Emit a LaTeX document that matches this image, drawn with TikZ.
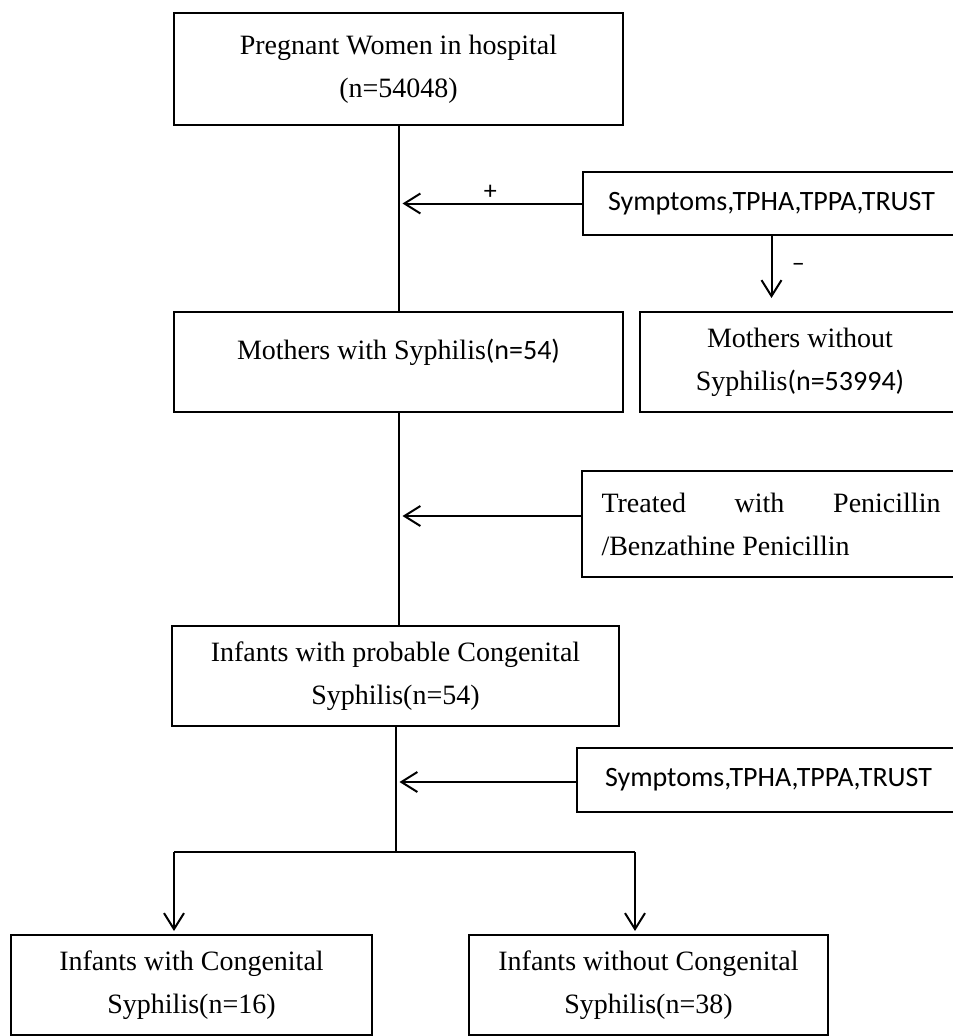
\documentclass[tikz,border=0pt]{standalone}
\usepackage{fontspec}
\setmainfont{Liberation Serif}
\newfontfamily\calibri{Carlito}
\usetikzlibrary{arrows.meta}

\tikzset{
    box/.style={draw, line width=2pt, align=center, inner sep=0pt, font=\fontsize{28}{43}\selectfont},
    sansbox/.style={box, font=\calibri\fontsize{28}{43}\selectfont},
    smallsans/.style={font=\calibri\fontsize{26}{30}\selectfont},
    link/.style={line width=2pt},
    arr/.style={line width=2pt, -{Straight Barb[length=16pt,width=20pt]}}
}

\begin{document}
\begin{tikzpicture}[x=1pt, y=-1pt]
    \useasboundingbox (0,0) rectangle (953,1036);

    % Draw nodes for the mothers
    \node[box, minimum width=449pt, minimum height=112pt] (pregnant) at (398.5, 69) {Pregnant Women in hospital\\(n=54048)};
    \node[sansbox, minimum width=377pt, minimum height=63pt] (test1) at (771.5, 203.5) {Symptoms,TPHA,TPPA,TRUST};
    \node[box, minimum width=449pt, minimum height=100pt, text depth=25pt] (mwith) at (398.5, 362) {Mothers with Syphilis{\calibri(n=54)}};
    \node[box, minimum width=320pt, minimum height=100pt] (mwithout) at (800, 362) {Mothers without\\Syphilis{\calibri(n=53994)}};
    \node[box, minimum width=378pt, minimum height=106pt, align=left] (treat) at (771, 524) {\makebox[339pt][s]{Treated with Penicillin}\\/Benzathine Penicillin};

    % Draw nodes for the infants
    \node[box, minimum width=447pt, minimum height=100pt] (probable) at (395.5, 676) {Infants with probable Congenital\\Syphilis(n=54)};
    \node[sansbox, minimum width=383pt, minimum height=64pt] (test2) at (768.5, 780) {Symptoms,TPHA,TPPA,TRUST};
    \node[box, minimum width=361pt, minimum height=100pt] (infpos) at (191.5, 985) {Infants with Congenital\\Syphilis(n=16)};
    \node[box, minimum width=359pt, minimum height=100pt] (infneg) at (648.5, 985) {Infants without Congenital\\Syphilis(n=38)};

    % Draw edges
    \draw[link] (pregnant.south) -- (pregnant.south |- mwith.north);
    \draw[arr, shorten >=4pt] (test1.west) -- (test1.west -| pregnant.south) node[midway, above=0pt, smallsans] {+};
    \draw[arr, shorten >=13pt] (test1.south) -- (test1.south |- mwithout.north) node[pos=0.42, right=16pt, smallsans] {\textendash};
    \draw[link] (mwith.south) -- (mwith.south |- probable.north);
    \draw[arr, shorten >=4pt] ([yshift=8pt]treat.west) -- ([yshift=8pt]treat.west -| mwith.south);

    \coordinate (split) at (395.5, 852);
    \coordinate (lefttop) at (174, 852);
    \coordinate (righttop) at (635, 852);
    \draw[link] (probable.south) -- (split);
    \draw[arr, shorten >=4pt] ([yshift=-2pt]test2.west) -- ([yshift=-2pt]test2.west -| probable.south);
    \draw[link] (lefttop) -- (righttop);
    \draw[arr, shorten >=3pt] (lefttop) -- (lefttop |- infpos.north);
    \draw[arr, shorten >=3pt] (righttop) -- (righttop |- infneg.north);
\end{tikzpicture}
\end{document}
